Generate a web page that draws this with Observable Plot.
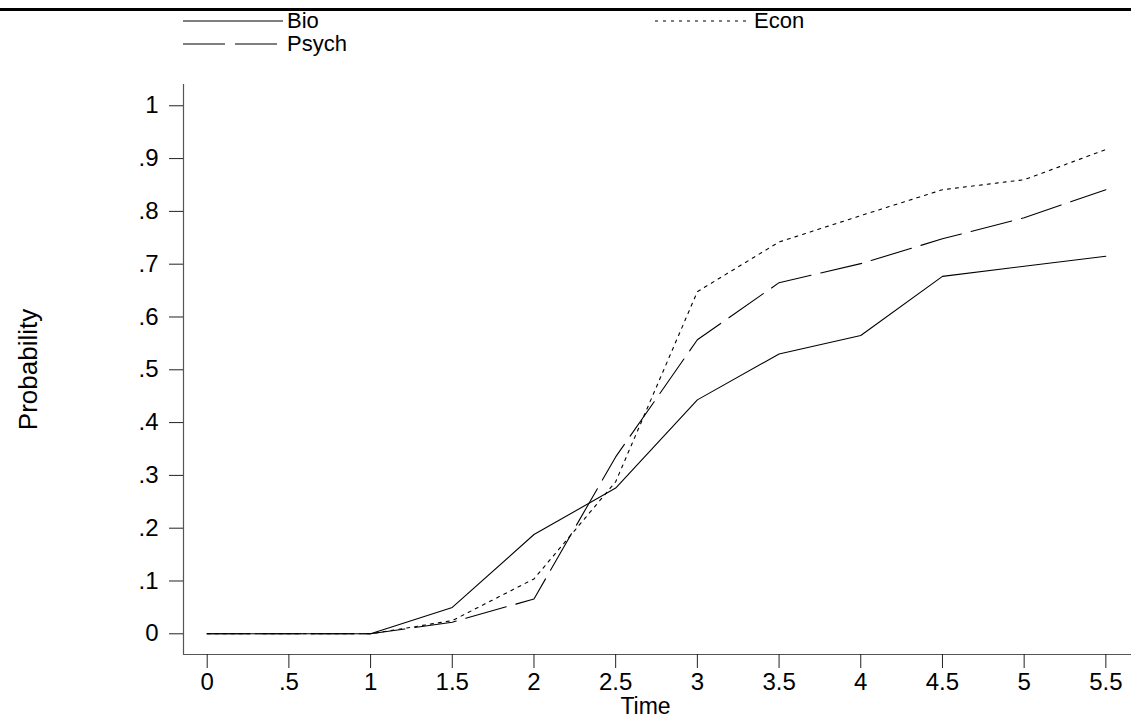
<!DOCTYPE html>
<html>
<head>
<meta charset="utf-8">
<script src="https://cdn.jsdelivr.net/npm/d3@7"></script>
<script src="https://cdn.jsdelivr.net/npm/@observablehq/plot@0.6"></script>
<style>
  html, body { margin: 0; padding: 0; background: #fff; }
  body { width: 1131px; height: 719px; overflow: hidden; font-family: "Liberation Sans", Arial, Helvetica, sans-serif; }
  #legend { position: relative; width: 1131px; height: 70px; }
  #bar { position: absolute; left: 0; top: 8px; width: 1131px; height: 3px; background: #000; }
  .item { position: absolute; display: flex; align-items: center; font-size: 22px; color: #000; line-height: 1; height: 22px; }
  .item svg { display: block; margin-right: 4px; }
  #chart svg { display: block; }
</style>
</head>
<body>
<div id="legend"><div id="bar"></div></div>
<div id="chart"></div>
<script>
// Data
const times = [0, 0.5, 1, 1.5, 2, 2.5, 3, 3.5, 4, 4.5, 5, 5.5];
const bio   = [0, 0, 0, 0.050, 0.188, 0.276, 0.443, 0.530, 0.565, 0.677, 0.696, 0.715];
const econ  = [0, 0, 0, 0.025, 0.104, 0.288, 0.648, 0.742, 0.792, 0.841, 0.860, 0.917];
const psych = [0, 0, 0, 0.022, 0.066, 0.335, 0.557, 0.665, 0.701, 0.748, 0.788, 0.841];
const yTicks = [0, 0.1, 0.2, 0.3, 0.4, 0.5, 0.6, 0.7, 0.8, 0.9, 1];
const xTicks = [0, 0.5, 1, 1.5, 2, 2.5, 3, 3.5, 4, 4.5, 5, 5.5];
const seriesNames = ["Bio", "Econ", "Psych"];
const dashes = {Bio: "none", Econ: "3,5", Psych: "42,10"};

const rows = (vals, name) => times.map((t, i) => ({t, p: vals[i], series: name}));
const data = [...rows(bio, "Bio"), ...rows(econ, "Econ"), ...rows(psych, "Psych")];

const fmt = d => d === 0 ? "0" : d === 1 ? "1" : String(+d.toFixed(2)).replace(/^0/, "");

const xDom = [-0.145, 5.657];
const yDom = [-0.0392, 1.0403];
const font = "'Liberation Sans', Arial, Helvetica, sans-serif";

const chart = Plot.plot({
  width: 1131,
  height: 649,
  marginTop: 14,
  marginBottom: 65,
  marginLeft: 183,
  marginRight: 0,
  style: {fontFamily: font, color: "#000", background: "#fff"},
  x: {domain: xDom},
  y: {domain: yDom},
  marks: [
    Plot.ruleX([xDom[0]], {stroke: "#555", strokeWidth: 1.2}),
    Plot.ruleY([yDom[0]], {stroke: "#555", strokeWidth: 1.2}),
    Plot.axisY({ticks: yTicks, tickFormat: fmt, tickSize: 14, tickPadding: 11, fontSize: 24,
      stroke: "#222", label: null}),
    Plot.axisX({ticks: xTicks, tickFormat: fmt, tickSize: 14, tickPadding: 4, fontSize: 24,
      stroke: "#222", label: null}),
    Plot.text(["Probability"], {frameAnchor: "left", text: d => d, rotate: -90, dx: -155,
      fontSize: 26, fill: "#000", textAnchor: "middle", lineAnchor: "middle"}),
    Plot.text(["Time"], {frameAnchor: "bottom", text: d => d, dx: -12, dy: 52,
      fontSize: 23, fill: "#000", textAnchor: "middle", lineAnchor: "middle"}),
    ...seriesNames.map(name => Plot.line(data.filter(d => d.series === name), {
      x: "t", y: "p", stroke: "#000", strokeWidth: 1.1, strokeDasharray: dashes[name]
    }))
  ]
});
document.getElementById("chart").appendChild(chart);

// Legend
const legend = document.getElementById("legend");
const legendPos = {Bio: [183, 21, 100], Psych: [183, 44, 100], Econ: [655, 21, 95]};
for (const name of seriesNames) {
  const [left, cy, w] = legendPos[name];
  const item = document.createElement("div");
  item.className = "item";
  item.style.left = left + "px";
  item.style.top = (cy - 11) + "px";
  const ns = "http://www.w3.org/2000/svg";
  const s = document.createElementNS(ns, "svg");
  s.setAttribute("width", w); s.setAttribute("height", 4);
  const l = document.createElementNS(ns, "line");
  l.setAttribute("x1", 0); l.setAttribute("x2", w); l.setAttribute("y1", 2); l.setAttribute("y2", 2);
  l.setAttribute("stroke", "#000"); l.setAttribute("stroke-width", 1.1);
  if (dashes[name] !== "none") l.setAttribute("stroke-dasharray", dashes[name]);
  s.appendChild(l);
  item.appendChild(s);
  const txt = document.createElement("span");
  txt.textContent = name;
  item.appendChild(txt);
  legend.appendChild(item);
}
</script>
</body>
</html>
